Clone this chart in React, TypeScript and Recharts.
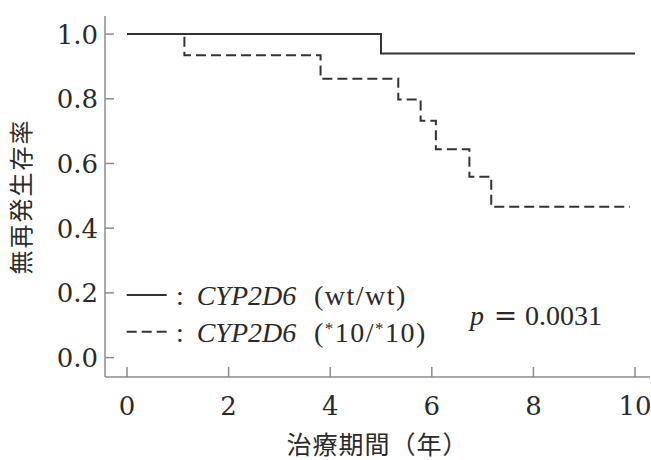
import { LineChart, Line, XAxis, YAxis, Legend, Label } from "recharts";

// Kaplan-Meier steps
const wtTime = [0, 5.0, 10.0];
const wtSurv = [1.0, 0.94, 0.94];
const mutTime = [0, 1.13, 3.81, 5.34, 5.78, 6.08, 6.74, 7.17, 9.9];
const mutSurv = [1.0, 0.935, 0.862, 0.798, 0.732, 0.644, 0.559, 0.466, 0.466];

const gene = "CYP2D6";
const genotypes = ["wt/wt", "*10/*10"];
const seriesNames = genotypes.map((g) => `${gene} (${g})`);
const xTicks = [0, 2, 4, 6, 8, 10];
const yTicks = [0, 0.2, 0.4, 0.6, 0.8, 1.0];
const pText = "0.0031";

const xDomain: [number, number] = [-0.433, 10.295];
const yDomain: [number, number] = [-0.06, 1.056];

const ink = "#2a2a2a";
const frame = "#8c8c8c";
const tickFont = "'DejaVu Serif', serif";
const textFont = "'Liberation Serif', serif";
const cjkFont = "'Noto Sans CJK JP', sans-serif";

const wtData = wtTime.map((t, i) => ({ t, s: wtSurv[i] }));
const mutData = mutTime.map((t, i) => ({ t, s: mutSurv[i] }));

const YTick = (props: any) => {
  const { x, y, payload } = props;
  return (
    <g>
      <line x1={x} x2={x + 9} y1={y} y2={y} stroke={frame} strokeWidth={1.5} />
      <text x={x - 7} y={y + 9.5} textAnchor="end" fontFamily={tickFont} fontSize={26} fill={ink}>
        {Number(payload.value).toFixed(1)}
      </text>
    </g>
  );
};

const XTick = (props: any) => {
  const { x, y, payload } = props;
  return (
    <g>
      <line x1={x} x2={x} y1={y} y2={y - 10} stroke={frame} strokeWidth={1.5} />
      <text x={x} y={y + 38} textAnchor="middle" fontFamily={tickFont} fontSize={26} fill={ink}>
        {payload.value}
      </text>
    </g>
  );
};

const genotypeSpans = (g: string) => {
  const parts = g.split("*");
  return (
    <>
      <tspan>(</tspan>
      <tspan>{parts[0]}</tspan>
      {parts.slice(1).map((p, i) => (
        <tspan key={i}>
          <tspan fontSize={17} dy={-8}>*</tspan>
          <tspan dy={8}>{p}</tspan>
        </tspan>
      ))}
      <tspan>)</tspan>
    </>
  );
};

const renderLegend = (props: any) => {
  const items = [...(props.payload ?? [])].sort(
    (a: any, b: any) => seriesNames.indexOf(a.value) - seriesNames.indexOf(b.value)
  );
  return (
    <svg width={320} height={90} style={{ overflow: "visible" }}>
      {items.map((entry: any) => {
        const i = seriesNames.indexOf(entry.value);
        const base = 35 + i * 36.7;
        const dash = entry.payload?.strokeDasharray;
        return (
          <g key={entry.value}>
            <line x1={6.7} x2={46.7} y1={base - 10} y2={base - 10} stroke="#333" strokeWidth={2} strokeDasharray={dash} />
            <text x={60} y={base} textAnchor="middle" fontFamily={textFont} fontSize={28} fill={ink}>:</text>
            <text x={76.7} y={base} fontFamily={textFont} fontStyle="italic" fontSize={28} fill={ink}>{gene}</text>
            <text x={194} y={base} fontFamily={textFont} fontSize={28} fill={ink} letterSpacing={1.5}>
              {genotypeSpans(genotypes[i])}
            </text>
          </g>
        );
      })}
    </svg>
  );
};

export default function App() {
  return (
    <div style={{ position: "absolute", left: 0, top: 0, width: 651, height: 460, background: "#fff" }}>
      <LineChart width={651} height={460} margin={{ top: 16, right: 1, bottom: 0, left: 0 }}>
        <XAxis
          dataKey="t"
          type="number"
          domain={xDomain}
          allowDataOverflow
          ticks={xTicks}
          height={83}
          tickSize={0}
          tickMargin={0}
          tickLine={false}
          tick={<XTick />}
          axisLine={{ stroke: frame, strokeWidth: 1.5 }}
        >
          <Label
            value="治療期間（年）"
            position="insideBottom"
            offset={6}
            style={{ fontFamily: cjkFont, fontSize: 25, fill: ink, letterSpacing: "1px" }}
          />
        </XAxis>
        <XAxis
          xAxisId="top"
          orientation="top"
          type="number"
          domain={xDomain}
          allowDataOverflow
          height={0}
          tick={false}
          tickLine={false}
          axisLine={{ stroke: frame, strokeWidth: 1.5 }}
        />
        <YAxis
          type="number"
          domain={yDomain}
          allowDataOverflow
          ticks={yTicks}
          width={105}
          tickSize={0}
          tickMargin={0}
          tickLine={false}
          tick={<YTick />}
          axisLine={{ stroke: frame, strokeWidth: 1.5 }}
        >
          <Label
            value="無再発生存率"
            angle={-90}
            position="center"
            dx={-31}
            style={{ fontFamily: cjkFont, fontSize: 24, fill: ink, letterSpacing: "2px" }}
          />
        </YAxis>
        <YAxis
          yAxisId="right"
          orientation="right"
          type="number"
          domain={yDomain}
          allowDataOverflow
          width={0}
          tick={false}
          tickLine={false}
          axisLine={{ stroke: frame, strokeWidth: 1.5 }}
        />
        <Legend
          layout="vertical"
          align="center"
          verticalAlign="middle"
          wrapperStyle={{ left: 120, top: 270, width: 320, height: 90 }}
          content={renderLegend}
        />
        <Line
          data={wtData}
          dataKey="s"
          name={seriesNames[0]}
          type="stepAfter"
          stroke="#333"
          strokeWidth={2}
          dot={false}
          isAnimationActive={false}
        />
        <Line
          data={mutData}
          dataKey="s"
          name={seriesNames[1]}
          type="stepAfter"
          stroke="#333"
          strokeWidth={2}
          strokeDasharray="10 5"
          dot={false}
          isAnimationActive={false}
        />
      </LineChart>
      <svg width={651} height={460} style={{ position: "absolute", left: 0, top: 0, pointerEvents: "none" }}>
        <text x={470} y={325} fontFamily={textFont} fontStyle="italic" fontSize={28} fill={ink}>p</text>
        <text x={505.5} y={325} textAnchor="middle" fontFamily={tickFont} fontSize={28} fill={ink}>=</text>
        <text x={525} y={325} fontFamily={textFont} fontSize={28} fill={ink}>{pText}</text>
      </svg>
    </div>
  );
}
